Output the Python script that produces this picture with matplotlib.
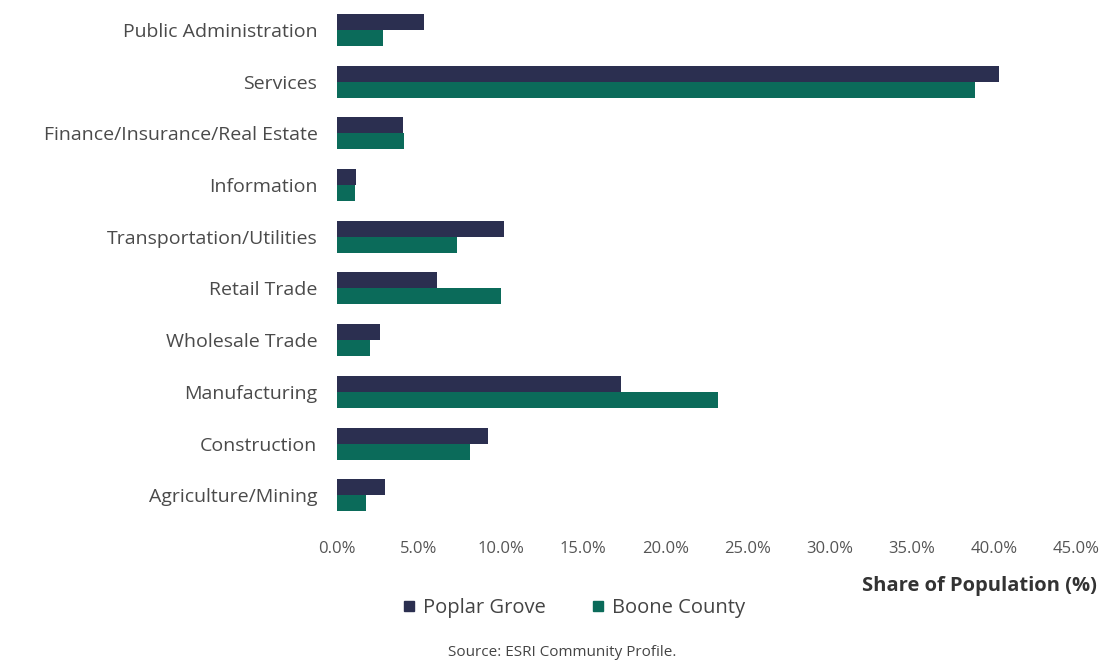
import matplotlib
matplotlib.use("Agg")
import matplotlib.pyplot as plt
import numpy as np
from matplotlib.lines import Line2D

categories = ["Public Administration", "Services", "Finance/Insurance/Real Estate",
              "Information", "Transportation/Utilities", "Retail Trade",
              "Wholesale Trade", "Manufacturing", "Construction", "Agriculture/Mining"]
poplar_grove = [5.3, 40.3, 4.0, 1.15, 10.2, 6.1, 2.6, 17.3, 9.2, 2.9]
boone_county = [2.8, 38.8, 4.1, 1.1, 7.3, 10.0, 2.0, 23.2, 8.1, 1.8]
xticks = [0, 5, 10, 15, 20, 25, 30, 35, 40, 45]

c_pg = "#2b2f50"
c_bc = "#0b6b5a"
font = "Open Sans"

fig = plt.figure(figsize=(11.08, 6.66), dpi=100)
ax = fig.add_axes([0.304, 0.219, 0.675, 0.7735])

y = np.arange(len(categories))
h = 0.31
ax.barh(y - h / 2, poplar_grove, height=h, color=c_pg)
ax.barh(y + h / 2, boone_county, height=h, color=c_bc)

ax.set_ylim(9.48, -0.48)
ax.set_xlim(0, 45.5)
ax.set_yticks(y)
ax.set_yticklabels(categories, fontsize=14, family=font, color="#4a4a4a")
ax.set_xticks(xticks)
ax.set_xticklabels([f"{v:.1f}%" for v in xticks], fontsize=12, family=font, color="#555555")
ax.tick_params(axis="y", length=0, pad=14)
ax.tick_params(axis="x", length=0, pad=15)
for s in ax.spines.values():
    s.set_visible(False)

fig.text(0.99, 0.12, "Share of Population (%)", ha="right", va="center",
         fontsize=14.5, fontweight="bold", family=font, color="#333333")

handles = [Line2D([], [], marker="s", linestyle="none", color=c_pg, markersize=6.5),
           Line2D([], [], marker="s", linestyle="none", color=c_bc, markersize=6.5)]
fig.legend(handles, ["Poplar Grove", "Boone County"], loc="center",
           bbox_to_anchor=(0.512, 0.087), ncol=2, frameon=False,
           prop={"family": font, "size": 14.5}, handletextpad=-0.3,
           columnspacing=1.6, labelcolor="#444444")

fig.text(0.507, 0.021, "Source: ESRI Community Profile.", ha="center", va="center",
         fontsize=11, family=font, color="#444444")

fig.savefig("out.png", dpi=100, facecolor="white")
